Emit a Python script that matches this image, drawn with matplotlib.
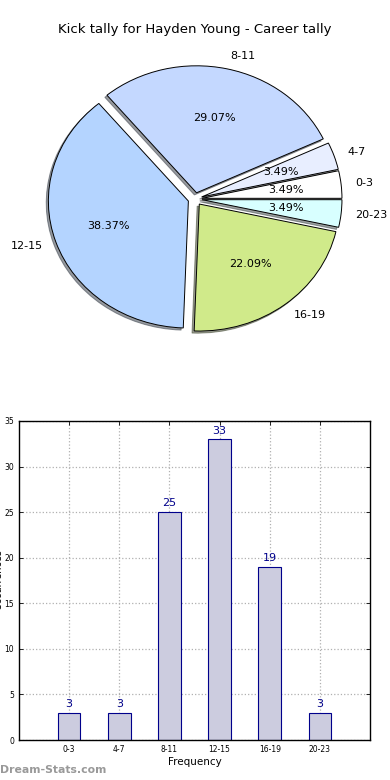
import matplotlib
matplotlib.use("Agg")
import matplotlib.pyplot as plt

categories = ["0-3", "4-7", "8-11", "12-15", "16-19", "20-23"]
counts = [3, 3, 25, 33, 19, 3]
pie_colors = ["#ffffff", "#e8eeff", "#c4d8ff", "#b4d4ff", "#d0ea8a", "#d8ffff"]
title = "Kick tally for Hayden Young - Career tally"
bar_xlabel = "Frequency"
bar_ylabel = "Occurrences"
yticks = [0, 5, 10, 15, 20, 25, 30, 35]
watermark = "Dream-Stats.com"

W, H = 390, 780
fig = plt.figure(figsize=(W / 100, H / 100), dpi=100)

# ---- Pie ----
rx, ry = 140.0, 127.0
cx, cy = 195.0, 199.0
top_px, bot_px = 40.0, 370.0
ax1 = fig.add_axes([0, (H - bot_px) / H, 1, (bot_px - top_px) / H])
wedges, texts, autotexts = ax1.pie(
    counts, labels=categories, colors=pie_colors, explode=[0.05] * len(counts),
    autopct="%.2f%%", startangle=0,
    shadow={"ox": -0.011, "oy": -0.012, "shade": 0.75},
    wedgeprops=dict(edgecolor="black", linewidth=0.7),
    textprops=dict(fontsize=8),
)
ax1.set_aspect("auto")
ax1.set_xlim(-cx / rx, (W - cx) / rx)
ax1.set_ylim(-(bot_px - cy) / ry, (cy - top_px) / ry)
ax1.axis("off")
fig.text(0.5, 1 - 30 / H, title, ha="center", va="center", fontsize=9.5)

# ---- Bars ----
left, right, top, bottom = 19, 370, 421, 740
ax2 = fig.add_axes([left / W, (H - bottom) / H, (right - left) / W, (bottom - top) / H])
xs = list(range(len(categories)))
bars = ax2.bar(xs, counts, width=0.45, color="#ccccdf", edgecolor="#00008b", linewidth=0.8, zorder=2)
for x, v in zip(xs, counts):
    ax2.text(x, v + 0.4, str(v), ha="center", va="bottom", color="#00008b", fontsize=8)
ax2.set_xlim(-1, 6)
ax2.set_ylim(0, 35)
ax2.set_yticks(yticks)
ax2.set_xticks(xs)
ax2.set_xticklabels(categories)
ax2.tick_params(axis="both", labelsize=5.5, direction="in", length=3, width=0.6,
                top=True, right=True)
ax2.grid(True, linestyle=":", color="#b0b0b0", linewidth=0.9, zorder=0)
ax2.set_axisbelow(True)
ax2.set_xlabel(bar_xlabel, fontsize=7.5, labelpad=2)
for s in ax2.spines.values():
    s.set_linewidth(1.0)
    s.set_color("black")
fig.text(-0.016, 1 - 580 / H, bar_ylabel, rotation=90, ha="left", va="center", fontsize=7)

fig.text(0.0, 1 - 770 / H, watermark, ha="left", va="center", fontsize=7.8,
         color="#999999", fontweight="bold")

fig.savefig("out.png", dpi=100)
